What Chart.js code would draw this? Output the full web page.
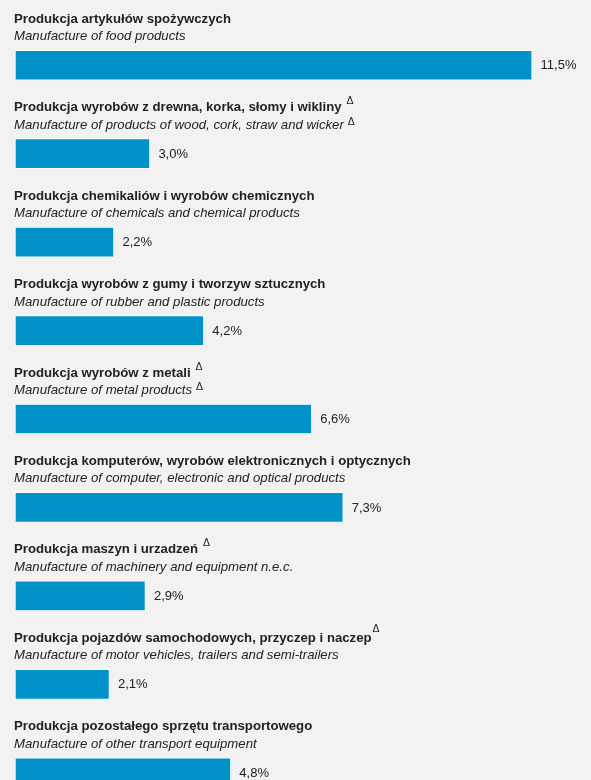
<!DOCTYPE html>
<html>
<head>
<meta charset="utf-8">
<script src="https://cdn.jsdelivr.net/npm/chart.js@4"></script>
<style>
  html, body { margin: 0; padding: 0; background: #f2f2f2; overflow: hidden; }
  #wrap { position: relative; width: 591px; height: 817px; }
</style>
</head>
<body>
<div id="wrap"><canvas id="c"></canvas></div>
<script>
const categoriesPl = [
  'Produkcja artykułów spożywczych',
  'Produkcja wyrobów z drewna, korka, słomy i wikliny',
  'Produkcja chemikaliów i wyrobów chemicznych',
  'Produkcja wyrobów z gumy i tworzyw sztucznych',
  'Produkcja wyrobów z metali',
  'Produkcja komputerów, wyrobów elektronicznych i optycznych',
  'Produkcja maszyn i urzadzeń',
  'Produkcja pojazdów samochodowych, przyczep i naczep',
  'Produkcja pozostałego sprzętu transportowego'
];
const categoriesEn = [
  'Manufacture of food products',
  'Manufacture of products of wood, cork, straw and wicker',
  'Manufacture of chemicals and chemical products',
  'Manufacture of rubber and plastic products',
  'Manufacture of metal products',
  'Manufacture of computer, electronic and optical products',
  'Manufacture of machinery and equipment n.e.c.',
  'Manufacture of motor vehicles, trailers and semi-trailers',
  'Manufacture of other transport equipment'
];
const values = [11.5, 3.0, 2.2, 4.2, 6.6, 7.3, 2.9, 2.1, 4.8];
const valueLabels = ['11,5%', '3,0%', '2,2%', '4,2%', '6,6%', '7,3%', '2,9%', '2,1%', '4,8%'];
const deltaPl = [false, true, false, false, true, false, true, true, false];
const deltaEn = [false, true, false, false, true, false, false, false, false];

const FONT = '"Liberation Sans", Arial, sans-serif';
const TEXT = '#222222';

const rowLabels = {
  id: 'rowLabels',
  afterDatasetsDraw(chart) {
    const ctx = chart.ctx;
    const meta = chart.getDatasetMeta(0);
    const left = chart.chartArea.left - 1;
    ctx.save();
    ctx.fillStyle = TEXT;
    ctx.textAlign = 'left';
    meta.data.forEach((el, i) => {
      const top = el.y - el.height / 2;
      const yBold = top - 27.5;
      const yIt = top - 10;
      ctx.textBaseline = 'alphabetic';
      ctx.font = 'bold 13.2px ' + FONT;
      ctx.fillText(categoriesPl[i], left, yBold);
      const wPl = ctx.measureText(categoriesPl[i]).width;
      ctx.font = 'italic 13.2px ' + FONT;
      ctx.fillText(categoriesEn[i], left, yIt);
      const wEn = ctx.measureText(categoriesEn[i]).width;
      ctx.font = '10.5px ' + FONT;
      if (deltaPl[i]) {
        const raised = i === 7;
        ctx.fillText('\u0394', left + wPl + (raised ? 1 : 5), yBold - (raised ? 10 : 7));
      }
      if (deltaEn[i]) {
        ctx.fillText('\u0394', left + wEn + 4, yIt - 4);
      }
      ctx.font = '13px ' + FONT;
      ctx.textBaseline = 'middle';
      ctx.fillText(valueLabels[i], el.x + 8.5, el.y + 0.5);
    });
    ctx.restore();
  }
};

new Chart(document.getElementById('c'), {
  type: 'bar',
  data: {
    labels: categoriesPl,
    datasets: [{
      data: values,
      backgroundColor: '#0092c9',
      borderColor: '#ffffff',
      borderWidth: 1,
      borderSkipped: false,
      barThickness: 30
    }]
  },
  options: {
    indexAxis: 'y',
    responsive: true,
    maintainAspectRatio: false,
    devicePixelRatio: 1,
    animation: false,
    layout: { padding: { left: 15, right: 0, top: 21, bottom: 0 } },
    plugins: { legend: { display: false }, tooltip: { enabled: false } },
    scales: {
      x: { display: false, min: 0, max: 12.81 },
      y: { display: false, offset: true }
    }
  },
  plugins: [rowLabels]
});
</script>
</body>
</html>
